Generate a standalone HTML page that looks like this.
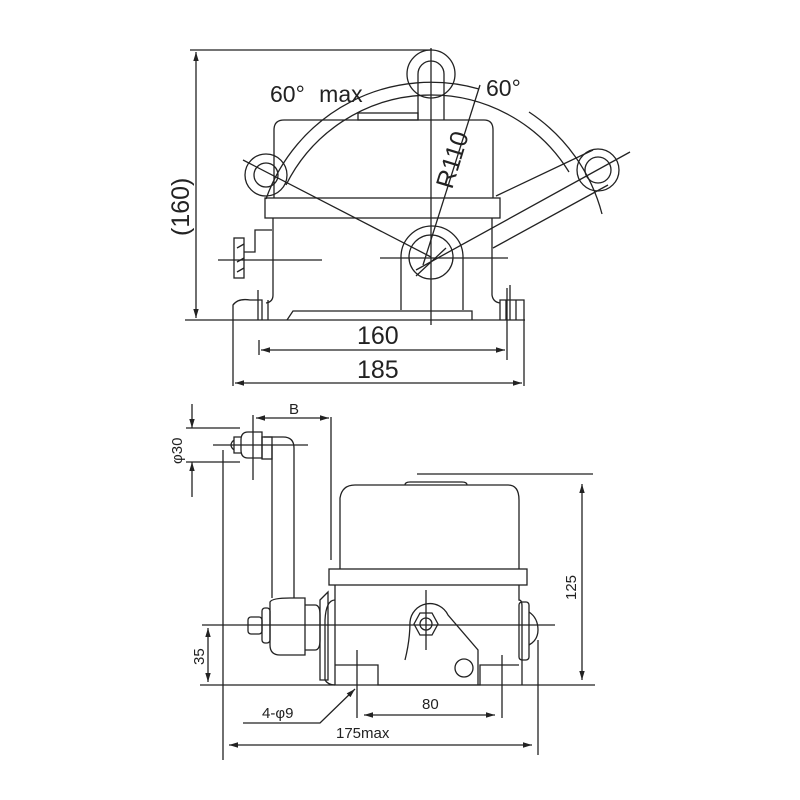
<!DOCTYPE html>
<html><head><meta charset="utf-8"><style>html,body{margin:0;padding:0;background:#fff}svg{display:block}</style></head>
<body>
<svg width="800" height="800" viewBox="0 0 800 800" xmlns="http://www.w3.org/2000/svg" font-family="Liberation Sans, DejaVu Sans, sans-serif">
<defs>
<marker id="a" viewBox="0 0 10 10" refX="10" refY="5" markerWidth="9" markerHeight="9" orient="auto-start-reverse" markerUnits="userSpaceOnUse"><path d="M0,2 L10,5 L0,8 z" fill="#222"/></marker>
</defs>
<g fill="none" stroke="#222" stroke-width="1.3">
<!-- ===== TOP VIEW ===== -->
<line x1="190" y1="50" x2="432" y2="50"/>
<line x1="196" y1="52" x2="196" y2="318" marker-start="url(#a)" marker-end="url(#a)"/>
<line x1="185" y1="320" x2="525" y2="320"/>
<path d="M274,198 V130 Q274,120 284,120 H484 Q493,120 493,130 V198"/>
<rect x="358" y="113" width="60" height="7"/>
<rect x="265" y="198" width="235" height="20"/>
<path d="M273,218 V295 Q273,302 266,303 M492,218 V295 Q493,302 500,303"/>
<path d="M233,320 V305 Q238,298 250,300 H262 V320 M268,300 V320 M258,290 V320"/>
<path d="M500,320 V300 H524 V320 M506,300 V320 M516,300 V320 M510,285 V320"/>
<path d="M287,320 L293,311 H472 V320"/>
<rect x="234" y="238" width="10" height="40"/>
<path d="M244,252 H255 V230 H272"/>
<line x1="237" y1="248" x2="244" y2="244"/><line x1="237" y1="262" x2="244" y2="258"/><line x1="237" y1="272" x2="244" y2="268"/>
<line x1="218" y1="260" x2="322" y2="260"/>
<line x1="380" y1="258" x2="508" y2="258"/>
<path d="M401,310 V257 A30,30 0 0 1 463,257 V310"/>
<circle cx="431" cy="257" r="22"/>
<line x1="431" y1="48" x2="431" y2="325"/>
<circle cx="431" cy="74" r="24"/>
<path d="M418,120 V74 A13,13 0 0 1 444,74 V120"/>
<!-- arcs centered (431,257) -->
<path d="M266,199 A175,175 0 0 1 479,89"/>
<path d="M529,112 A175,175 0 0 1 602,214"/>
<path d="M286,185 A162,162 0 0 1 569,172"/>
<line x1="243" y1="160" x2="431" y2="257"/>
<line x1="416" y1="270" x2="630" y2="152"/>
<line x1="496" y1="196" x2="593" y2="150"/>
<line x1="493" y1="248" x2="608" y2="185"/>
<line x1="423" y1="265" x2="480" y2="85"/>
<line x1="416" y1="276" x2="446" y2="248"/>
<circle cx="266" cy="175" r="21"/><circle cx="266" cy="175" r="12"/>
<circle cx="598" cy="170" r="21"/><circle cx="598" cy="170" r="13"/>
<line x1="259" y1="340" x2="259" y2="355"/><line x1="507" y1="288" x2="507" y2="360"/>
<line x1="261" y1="350" x2="505" y2="350" marker-start="url(#a)" marker-end="url(#a)"/>
<line x1="233" y1="320" x2="233" y2="386"/><line x1="524" y1="320" x2="524" y2="386"/>
<line x1="235" y1="383" x2="522" y2="383" marker-start="url(#a)" marker-end="url(#a)"/>

<!-- ===== BOTTOM VIEW ===== -->
<line x1="417" y1="474" x2="593" y2="474"/>
<line x1="582" y1="484" x2="582" y2="680" marker-start="url(#a)" marker-end="url(#a)"/>
<path d="M340,569 V498 Q342,485 355,485 H508 Q519,485 519,500 V569"/>
<path d="M405,485 Q405,482 410,482 H462 Q467,482 467,485"/>
<rect x="329" y="569" width="198" height="16"/>
<path d="M335,585 V685 M519,585 V600 Q522,600 522,606 V685"/>
<path d="M335,665 H378 V685 H480 V665 H519"/>
<path d="M335,600 Q326,600 325,620 V680 Q328,685 335,685"/>
<path d="M405,660 Q410,640 410,622 A20,20 0 0 1 448,615 L478,650 V685"/>
<circle cx="464" cy="668" r="9"/>
<path d="M414,624 L420,613 H432 L438,624 L432,635 H420 Z"/><circle cx="426" cy="624" r="6"/>
<line x1="426" y1="590" x2="426" y2="650"/>
<rect x="519" y="602" width="10" height="58" rx="3"/>
<path d="M529,612 Q538,618 538,630 Q538,640 529,645"/>
<path d="M272,598 V445 M294,598 V448 Q294,437 283,437 H264"/>
<rect x="262" y="437" width="10" height="22"/>
<path d="M262,432 H248 Q241,432 241,440 V450 Q241,458 248,458 H262 Z"/>
<path d="M241,437 H234 V453 H241 M234,440 Q228,445 234,450"/>
<line x1="213" y1="445" x2="308" y2="445"/>
<line x1="253" y1="415" x2="253" y2="480"/>
<path d="M270,602 Q272,598 290,598 H305 V655 H280 Q270,655 270,645 Z"/>
<rect x="262" y="608" width="8" height="35" rx="3"/>
<rect x="248" y="617" width="14" height="17" rx="3"/>
<path d="M305,605 H315 Q320,605 320,615 V640 Q320,650 315,650 H305"/>
<path d="M320,600 L328,592 V680 L320,680 Z"/>
<line x1="202" y1="625" x2="555" y2="625"/>
<line x1="200" y1="685" x2="595" y2="685"/>
<line x1="208" y1="628" x2="208" y2="682" marker-start="url(#a)" marker-end="url(#a)"/>
<line x1="331" y1="417" x2="331" y2="560"/>
<line x1="256" y1="418" x2="329" y2="418" marker-start="url(#a)" marker-end="url(#a)"/>
<line x1="186" y1="428" x2="240" y2="428"/><line x1="186" y1="462" x2="240" y2="462"/>
<line x1="192" y1="404" x2="192" y2="428" marker-end="url(#a)"/>
<line x1="192" y1="497" x2="192" y2="462" marker-end="url(#a)"/>
<line x1="223" y1="450" x2="223" y2="760"/>
<line x1="538" y1="640" x2="538" y2="755"/>
<line x1="229" y1="745" x2="532" y2="745" marker-start="url(#a)" marker-end="url(#a)"/>
<line x1="357" y1="650" x2="357" y2="718"/><line x1="502" y1="655" x2="502" y2="718"/>
<line x1="364" y1="715" x2="495" y2="715" marker-start="url(#a)" marker-end="url(#a)"/>
<polyline points="243,723 320,723 355,689" marker-end="url(#a)"/>
</g>
<g fill="#222" stroke="none">
<text x="270" y="102" font-size="23" word-spacing="8">60° max</text>
<text x="486" y="96" font-size="23">60°</text>
<text x="0" y="0" font-size="25" transform="translate(452,190) rotate(-73)">R110</text>
<text x="0" y="0" font-size="25" transform="translate(189,236) rotate(-90)">(160)</text>
<text x="357" y="344" font-size="25">160</text>
<text x="357" y="378" font-size="25">185</text>
<text x="289" y="414" font-size="15">B</text>
<text x="0" y="0" font-size="15" transform="translate(182,464) rotate(-90)">φ30</text>
<text x="0" y="0" font-size="15" transform="translate(576,600) rotate(-90)">125</text>
<text x="0" y="0" font-size="15" transform="translate(204,665) rotate(-90)">35</text>
<text x="262" y="718" font-size="15">4-φ9</text>
<text x="422" y="709" font-size="15">80</text>
<text x="336" y="738" font-size="15">175max</text>
</g>
</svg>
</body></html>
